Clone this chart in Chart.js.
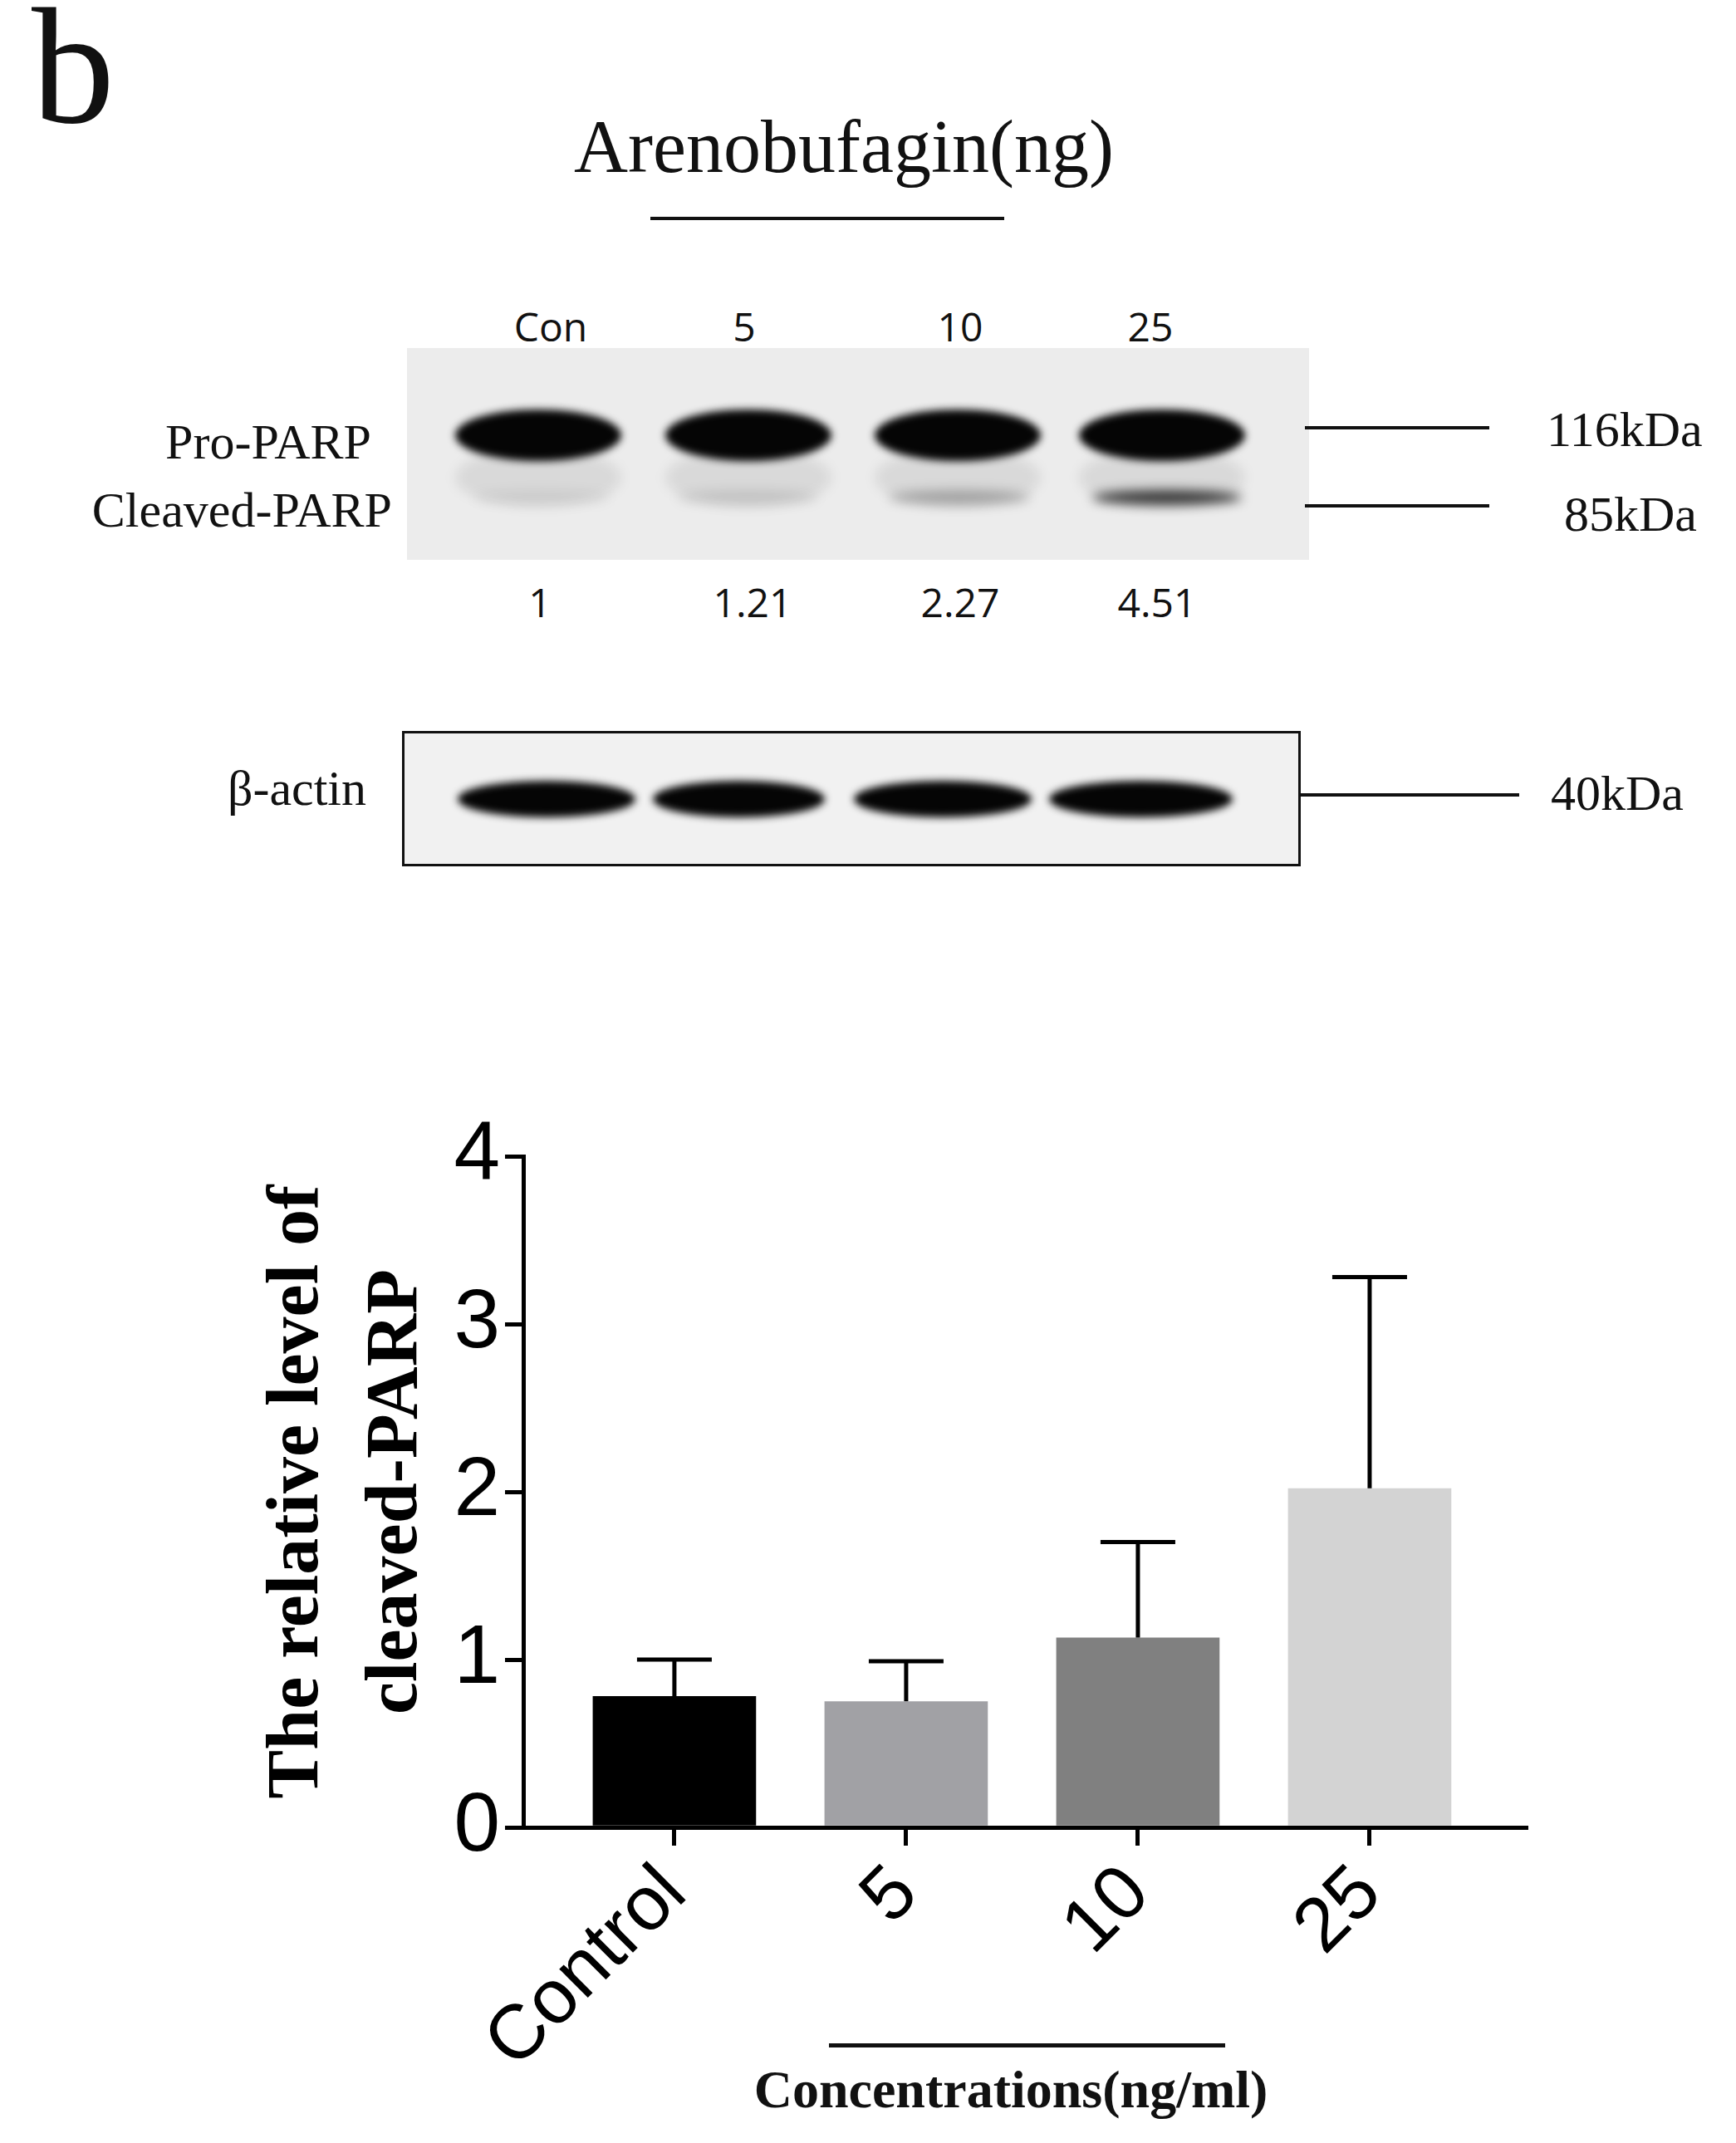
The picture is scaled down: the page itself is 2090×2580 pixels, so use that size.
<!DOCTYPE html>
<html><head><meta charset="utf-8">
<script src="https://cdn.jsdelivr.net/npm/chart.js@4"></script>
<style>
body{margin:0;width:2090px;height:2580px;background:#fff;position:relative;overflow:hidden}
.t{position:absolute;white-space:nowrap;color:#111}
.serif{font-family:"Liberation Serif","DejaVu Serif",serif}
.sans{font-family:"Open Sans","Liberation Sans",sans-serif}
.ln{position:absolute;background:#111}
.band{position:absolute;background:#050505;border-radius:50%;filter:blur(5px)}
.faint{position:absolute;border-radius:50%;filter:blur(7px)}
#wrap{position:absolute;left:300px;top:1326px;width:1600px;height:1254px}
</style></head><body>
<div class="t serif" style="left:38px;top:-20px;font-size:200px;line-height:200px">b</div>
<div class="t serif" style="left:1016px;top:122px;font-size:90px;transform:translateX(-50%);line-height:110px">Arenobufagin(ng)</div>
<div class="ln" style="left:783px;top:261px;width:426px;height:4px"></div>
<div id="blot"></div>
<div id="wrap"><canvas id="c"></canvas></div>
<div class="ln" style="left:998px;top:2460px;width:477px;height:5px"></div>
<div class="t serif" style="left:1217px;top:2480px;font-size:64px;font-weight:bold;transform:translateX(-50%);line-height:72px">Concentrations(ng/ml)</div>
<script>
// ---- data ----
const laneLabels=["Con","5","10","25"];
const laneRatios=["1","1.21","2.27","4.51"];
const categories=["Control","5","10","25"];
const means=[0.78,0.75,1.13,2.02];
const errTops=[1.00,0.99,1.70,3.28];
const barColors=["#000000","#a1a1a5","#808080","#d3d3d3"];
const yTicks=[0,1,2,3,4];

// ---- blot (decorative) ----
const b=document.getElementById('blot');
function add(html){b.insertAdjacentHTML('beforeend',html);}
const laneX=[663,896,1156,1385], ratioX=[650,906,1156,1393];
laneLabels.forEach((s,i)=>add(`<div class="t sans" style="left:${laneX[i]}px;top:360px;font-size:48px;transform:translateX(-50%)">${s}</div>`));
laneRatios.forEach((s,i)=>add(`<div class="t sans" style="left:${ratioX[i]}px;top:692px;font-size:48px;transform:translateX(-50%)">${s}</div>`));
add(`<div style="position:absolute;left:490px;top:419px;width:1086px;height:255px;background:#ececec"></div>`);
const pro=[[548,200],[801,200],[1053,200],[1299,200]];
const cl=[[560,175,0.06],[805,180,0.1],[1060,180,0.25],[1305,190,0.75]];
pro.forEach(([x,w])=>{add(`<div class="faint" style="left:${x}px;top:540px;width:${w}px;height:70px;background:rgba(0,0,0,0.08)"></div>`);add(`<div class="band" style="left:${x}px;top:493px;width:${w}px;height:62px"></div>`);});
cl.forEach(([x,w,a])=>add(`<div class="faint" style="left:${x+10}px;top:590px;width:${w-10}px;height:18px;background:rgba(0,0,0,${a})"></div>`));
add(`<div class="ln" style="left:1571px;top:513px;width:222px;height:4px"></div>`);
add(`<div class="ln" style="left:1571px;top:607px;width:222px;height:4px"></div>`);
add(`<div class="t serif" style="left:1862px;top:483px;font-size:60px">116kDa</div>`);
add(`<div class="t serif" style="left:1883px;top:585px;font-size:60px">85kDa</div>`);
add(`<div class="t serif" style="right:${2090-447}px;top:498px;font-size:60px">Pro-PARP</div>`);
add(`<div class="t serif" style="right:${2090-472}px;top:580px;font-size:60px">Cleaved-PARP</div>`);
add(`<div style="position:absolute;left:484px;top:880px;width:1076px;height:157px;border:3px solid #111;background:#f1f1f1"></div>`);
[[551,214],[786,207],[1028,214],[1263,221]].forEach(([x,w])=>add(`<div class="band" style="left:${x}px;top:940px;width:${w}px;height:44px"></div>`));
add(`<div class="ln" style="left:1564px;top:955px;width:265px;height:4px"></div>`);
add(`<div class="t serif" style="left:1867px;top:921px;font-size:60px">40kDa</div>`);
add(`<div class="t serif" style="right:${2090-441}px;top:915px;font-size:60px">β-actin</div>`);

// ---- chart ----
const errPlugin={id:'err',beforeDatasetsDraw(ch){
  const {ctx,scales:{x,y}}=ch;ctx.save();ctx.strokeStyle='#000';ctx.lineWidth=5;
  means.forEach((m,i)=>{const px=x.getPixelForValue(i);const t=y.getPixelForValue(errTops[i]);const bm=y.getPixelForValue(m);
    ctx.beginPath();ctx.moveTo(px,bm);ctx.lineTo(px,t);ctx.moveTo(px-45,t);ctx.lineTo(px+45,t);ctx.stroke();});
  ctx.restore();}};
new Chart(document.getElementById('c'),{
  type:'bar',
  data:{datasets:[{data:means.map((v,i)=>({x:i,y:v})),backgroundColor:barColors,barThickness:196}]},
  options:{responsive:true,maintainAspectRatio:false,animation:false,
    layout:{padding:{top:40,right:63,left:0,bottom:0}},
    plugins:{legend:{display:false},tooltip:{enabled:false}},
    scales:{
      x:{type:'linear',offset:false,min:-0.652,max:3.674,grid:{offset:false,display:true,drawOnChartArea:false,color:'#000',lineWidth:5,tickLength:22,tickWidth:5},
        border:{color:'#000',width:5},
        afterBuildTicks:s=>{s.ticks=categories.map((c,i)=>({value:i}));},
        afterFit:s=>{s.height=380;},
        ticks:{autoSkip:false,maxRotation:45,minRotation:45,color:'#000',font:{family:'Arial, "Liberation Sans", sans-serif',size:92},padding:4,callback:v=>categories[v]}},
      y:{min:0,max:4,grid:{drawOnChartArea:false,color:'#000',lineWidth:5,tickLength:22,tickWidth:5},
        border:{color:'#000',width:5},
        afterBuildTicks:s=>{s.ticks=yTicks.map(v=>({value:v}));},
        afterFit:s=>{s.width=330;},
        ticks:{color:'#000',font:{family:'Arial, "Liberation Sans", sans-serif',size:100},padding:6},
        title:{display:true,text:['The relative level of','cleaved-PARP'],color:'#000',font:{family:'"Liberation Serif", serif',size:88,weight:'bold',lineHeight:1.35},padding:{top:0,bottom:0}}}
    }},
  plugins:[errPlugin]
});
</script>
</body></html>
